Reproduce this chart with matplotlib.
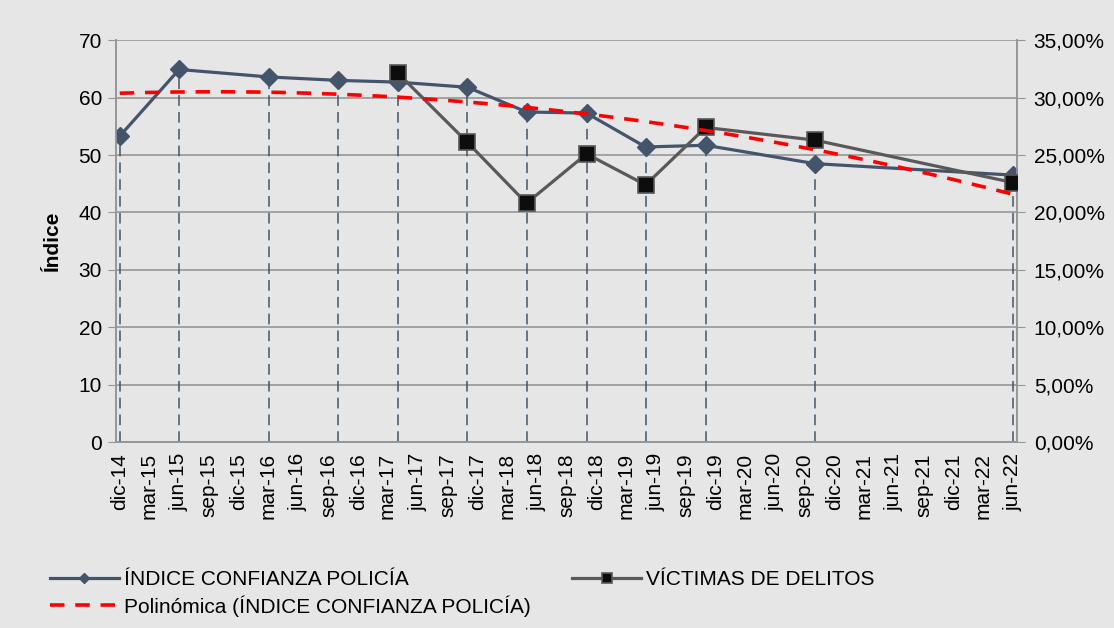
import datetime as dt
import numpy as np
import matplotlib
matplotlib.use("Agg")
from matplotlib import pyplot as plt
import matplotlib.dates as mdates
from matplotlib.ticker import FuncFormatter, MultipleLocator

# data
fechas_indice = ["2014-12-01", "2015-06-01", "2016-03-01", "2016-10-01", "2017-04-01",
                 "2017-11-01", "2018-05-01", "2018-11-01", "2019-05-01", "2019-11-01",
                 "2020-10-01", "2022-06-01"]
indice_confianza = [53.3, 64.9, 63.6, 63.0, 62.7, 61.8, 57.5, 57.3, 51.4, 51.7, 48.5, 46.5]

fechas_victimas = ["2017-04-01", "2017-11-01", "2018-05-01", "2018-11-01", "2019-05-01",
                   "2019-11-01", "2020-10-01", "2022-06-01"]
victimas = [0.3215, 0.261, 0.208, 0.251, 0.224, 0.274, 0.263, 0.226]

meses = ["ene", "feb", "mar", "abr", "may", "jun", "jul", "ago", "sep", "oct", "nov", "dic"]

plt.rcParams['font.family'] = ['Liberation Sans', 'DejaVu Sans']

x_ind = [dt.datetime.strptime(d, "%Y-%m-%d") for d in fechas_indice]
x_vic = [dt.datetime.strptime(d, "%Y-%m-%d") for d in fechas_victimas]

# polynomial trend (order 2) of the confidence index, like Excel's "Polinómica"
xn = mdates.date2num(x_ind)
coef = np.polyfit(xn, indice_confianza, 2)
xt = np.linspace(xn[0], xn[-1], 200)
yt = np.polyval(coef, xt)

bg = '#E6E6E6'
grid_c = '#969696'
azul = '#44546A'
fs = 15

fig = plt.figure(figsize=(11.14, 6.28), dpi=100, facecolor=bg)
ax = fig.add_axes([0.104, 0.296, 0.809, 0.640])
ax.set_facecolor(bg)
ax2 = ax.twinx()

# drop lines
ax.vlines(x_ind, 0, indice_confianza, colors=azul, linestyles=(0, (7, 4)), linewidth=1.1, zorder=1)
ax.plot(x_ind, indice_confianza, color=azul, lw=2.3, marker='D', markersize=9,
        zorder=3, label='ÍNDICE CONFIANZA POLICÍA')

ax2.plot(x_vic, victimas, color='#595959', lw=2.3, marker='s', markersize=11,
         markerfacecolor='#0D0D0D', markeredgecolor='#595959', markeredgewidth=1.2,
         zorder=3, label='VÍCTIMAS DE DELITOS')
ax2.plot(mdates.num2date(xt), yt, color='#FF0000', lw=2.6, ls=(0, (4, 3)),
         transform=ax.transData, zorder=4,
         label='Polinómica (ÍNDICE CONFIANZA POLICÍA)')

ax.set_ylim(0, 70)
ax2.set_ylim(0, 0.35)
ax.set_xlim(dt.datetime(2014, 11, 19), dt.datetime(2022, 6, 13))

ax.yaxis.set_major_locator(MultipleLocator(10))
ax2.yaxis.set_major_locator(MultipleLocator(0.05))
ax2.yaxis.set_major_formatter(FuncFormatter(lambda v, p: f"{v*100:.2f}%".replace('.', ',')))
ax.grid(axis='y', color=grid_c, lw=1.2)
ax.set_axisbelow(True)

ticks = []
labels = []
y, m = 2014, 12
while (y, m) <= (2022, 6):
    ticks.append(dt.datetime(y, m, 1))
    labels.append(f"{meses[m - 1]}-{y % 100:02d}")
    m += 3
    if m > 12:
        m -= 12
        y += 1
ax.set_xticks(ticks)
ax.set_xticklabels(labels, rotation=90)

for a in (ax, ax2):
    a.spines['top'].set_visible(False)
    for s in ('left', 'right', 'bottom'):
        a.spines[s].set_color(grid_c)
        a.spines[s].set_linewidth(1.2)
ax.tick_params(axis='x', length=0, pad=8, labelsize=fs)
ax.tick_params(axis='y', length=6, color=grid_c, labelsize=fs, pad=4)
ax2.tick_params(axis='y', length=6, color=grid_c, labelsize=fs, pad=6)

ax.set_ylabel('Índice', fontsize=fs, fontweight='bold', labelpad=12)

h1, l1 = ax.get_legend_handles_labels()
h2, l2 = ax2.get_legend_handles_labels()
fig.legend([h1[0], h2[1], h2[0]], [l1[0], l2[1], l2[0]], ncol=2,
           loc='lower left', bbox_to_anchor=(0.028, -0.012), frameon=False,
           fontsize=fs, handlelength=3.3, handletextpad=0.25, columnspacing=2.0,
           labelspacing=0.3, markerscale=0.6)

fig.savefig('out.png', dpi=100, facecolor=bg, edgecolor='#BFBFBF')
